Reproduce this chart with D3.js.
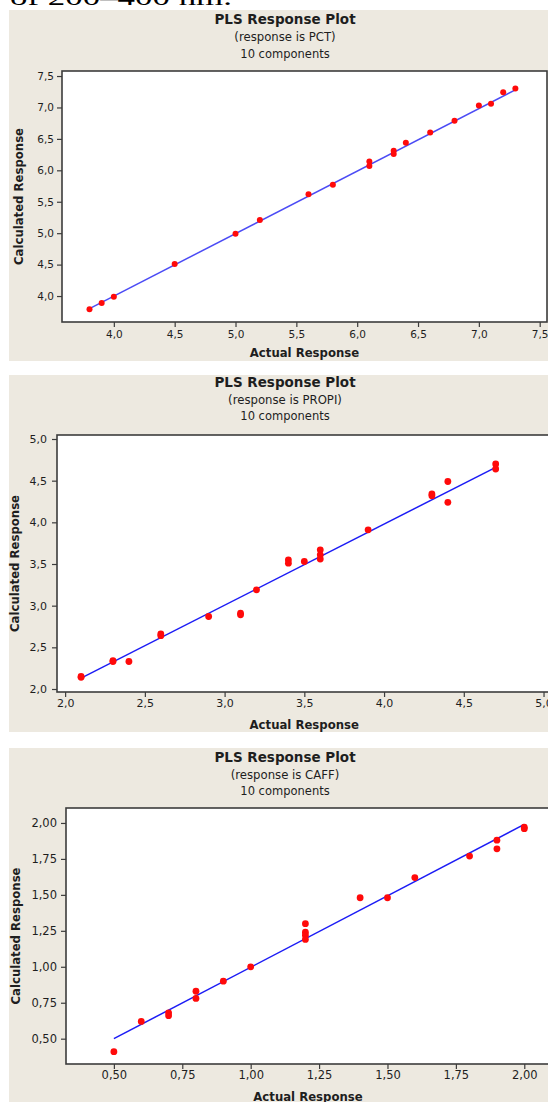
<!DOCTYPE html>
<html>
<head>
<meta charset="utf-8">
<script src="https://cdn.jsdelivr.net/npm/d3@7"></script>
<style>
    body { margin: 0; background: #fff; }
    svg { display: block; }
    text { font-family: "DejaVu Sans", sans-serif; fill: #1e1e1e; }
</style>
</head>
<body>
<svg id="chart" width="548" height="1102"></svg>
<script>
// ---- data ----
// PCT
const pctActual = [3.8, 3.9, 4.0, 4.5, 5.0, 5.2, 5.6, 5.8, 6.1, 6.1, 6.3, 6.3, 6.4, 6.6, 6.8, 7.0, 7.1, 7.2, 7.3];
const pctCalc   = [3.79, 3.89, 3.99, 4.51, 4.99, 5.21, 5.62, 5.77, 6.14, 6.07, 6.31, 6.26, 6.44, 6.60, 6.79, 7.03, 7.06, 7.24, 7.30];
const pctFitX = [3.8, 7.3];
const pctFitY = [3.80, 7.28];
const pctTicks = [4.0, 4.5, 5.0, 5.5, 6.0, 6.5, 7.0, 7.5];

// PROPI
const propiActual = [2.1, 2.1, 2.3, 2.3, 2.4, 2.6, 2.6, 2.9, 3.1, 3.1, 3.2, 3.4, 3.4, 3.5, 3.6, 3.6, 3.6, 3.9, 4.3, 4.3, 4.4, 4.4, 4.7, 4.7];
const propiCalc   = [2.15, 2.14, 2.34, 2.33, 2.33, 2.66, 2.64, 2.87, 2.91, 2.89, 3.19, 3.55, 3.51, 3.53, 3.67, 3.61, 3.56, 3.91, 4.34, 4.32, 4.49, 4.24, 4.70, 4.64];
const propiFitX = [2.1, 4.7];
const propiFitY = [2.13, 4.66];
const propiTicks = [2.0, 2.5, 3.0, 3.5, 4.0, 4.5, 5.0];

// CAFF
const caffActual = [0.5, 0.6, 0.7, 0.7, 0.8, 0.8, 0.9, 1.0, 1.2, 1.2, 1.2, 1.2, 1.4, 1.5, 1.6, 1.8, 1.9, 1.9, 2.0, 2.0];
const caffCalc   = [0.41, 0.62, 0.68, 0.66, 0.83, 0.78, 0.90, 1.00, 1.30, 1.24, 1.22, 1.19, 1.48, 1.48, 1.62, 1.77, 1.88, 1.82, 1.97, 1.96];
const caffFitX = [0.5, 2.0];
const caffFitY = [0.50, 1.99];
const caffTicks = [0.50, 0.75, 1.00, 1.25, 1.50, 1.75, 2.00];

const svg = d3.select("#chart");

// tail of the paragraph above the figure (cut off by the crop)
svg.append("text")
    .attr("x", 10)
    .attr("y", 5)
    .attr("textLength", 222)
    .attr("lengthAdjust", "spacingAndGlyphs")
    .style("font-family", "'Liberation Serif', 'DejaVu Serif', serif")
    .style("font-size", "24px")
    .style("fill", "#000")
    .text("of 200\u2013400 nm.");

// layout of each panel (pixels)
const panels = [
    {
        name: "PCT", actual: pctActual, calc: pctCalc, fitX: pctFitX, fitY: pctFitY,
        xTicks: pctTicks, yTicks: pctTicks, digits: 1,
        bgTop: 10, bgBottom: 361,
        left: 62, right: 547, top: 71, bottom: 322,
        xDomain: [3.574, 7.56], yDomain: [3.587, 7.58],
        titleY: 24, subY: 41, compY: 57.5,
        xLabelY: 357, yLabelX: 23,
        tickLen: 5, xPad: 4, yPad: 3, tickFont: 10.5,
        lineColor: "#4b4bf5", r: 3
    },
    {
        name: "PROPI", actual: propiActual, calc: propiCalc, fitX: propiFitX, fitY: propiFitY,
        xTicks: propiTicks, yTicks: propiTicks, digits: 1,
        bgTop: 375, bgBottom: 732,
        left: 57, right: 551.5, top: 435, bottom: 692,
        xDomain: [1.949, 5.05], yDomain: [1.964, 5.048],
        titleY: 387, subY: 403.5, compY: 420,
        xLabelY: 729, yLabelX: 19,
        tickLen: 5, xPad: 2, yPad: 5, tickFont: 11,
        lineColor: "#1c1cf5", r: 3.4
    },
    {
        name: "CAFF", actual: caffActual, calc: caffCalc, fitX: caffFitX, fitY: caffFitY,
        xTicks: caffTicks, yTicks: caffTicks, digits: 2,
        bgTop: 748, bgBottom: 1110,
        left: 66, right: 550, top: 808, bottom: 1064,
        xDomain: [0.325, 2.094], yDomain: [0.324, 2.104],
        titleY: 762, subY: 778.5, compY: 795,
        xLabelY: 1101, yLabelX: 20,
        tickLen: 5, xPad: 2, yPad: 4, tickFont: 11.5,
        lineColor: "#1c1cf5", r: 3.4
    }
];

function drawPanel(p) {
    const g = svg.append("g");
    const fmt = d => d3.format("." + p.digits + "f")(d).replace(".", ",");

    // beige graph window
    g.append("rect")
        .attr("x", 9).attr("y", p.bgTop)
        .attr("width", 560).attr("height", p.bgBottom - p.bgTop)
        .attr("fill", "#ede9e0");

    // titles
    g.append("text").attr("x", 285).attr("y", p.titleY)
        .attr("text-anchor", "middle")
        .style("font-size", "13.5px").style("font-weight", "bold")
        .text("PLS Response Plot");
    g.append("text").attr("x", 285).attr("y", p.subY)
        .attr("text-anchor", "middle")
        .style("font-size", "11.7px")
        .text("(response is " + p.name + ")");
    g.append("text").attr("x", 285).attr("y", p.compY)
        .attr("text-anchor", "middle")
        .style("font-size", "11.5px")
        .text("10 components");

    // data region
    g.append("rect")
        .attr("x", p.left).attr("y", p.top)
        .attr("width", p.right - p.left).attr("height", p.bottom - p.top)
        .attr("fill", "#fff");

    const x = d3.scaleLinear().domain(p.xDomain).range([p.left, p.right]);
    const y = d3.scaleLinear().domain(p.yDomain).range([p.bottom, p.top]);

    const xAxis = g.append("g")
        .attr("transform", `translate(0,${p.bottom})`)
        .call(d3.axisBottom(x).tickValues(p.xTicks).tickFormat(fmt)
            .tickSize(p.tickLen).tickSizeOuter(0).tickPadding(p.xPad));
    const yAxis = g.append("g")
        .attr("transform", `translate(${p.left},0)`)
        .call(d3.axisLeft(y).tickValues(p.yTicks).tickFormat(fmt)
            .tickSize(p.tickLen).tickSizeOuter(0).tickPadding(p.yPad));

    [xAxis, yAxis].forEach(a => {
        a.select(".domain").remove();
        a.selectAll(".tick line").attr("stroke", "#3c3c3c").attr("stroke-width", 1.2);
        a.selectAll(".tick text")
            .style("font-family", "'DejaVu Sans', sans-serif")
            .style("font-size", p.tickFont + "px")
            .attr("fill", "#262626");
    });

    // frame around the data region
    g.append("rect")
        .attr("x", p.left).attr("y", p.top)
        .attr("width", p.right - p.left).attr("height", p.bottom - p.top)
        .attr("fill", "none")
        .attr("stroke", "#3c3c3c")
        .attr("stroke-width", 1.6);

    // axis titles
    g.append("text")
        .attr("x", (p.left + p.right) / 2).attr("y", p.xLabelY)
        .attr("text-anchor", "middle")
        .style("font-size", "11.7px").style("font-weight", "bold")
        .text("Actual Response");
    g.append("text")
        .attr("transform", `translate(${p.yLabelX},${(p.top + p.bottom) / 2}) rotate(-90)`)
        .attr("text-anchor", "middle")
        .style("font-size", "11.7px").style("font-weight", "bold")
        .text("Calculated Response");

    // fitted line
    const fit = p.fitX.map((v, i) => [v, p.fitY[i]]);
    g.append("path")
        .datum(fit)
        .attr("fill", "none")
        .attr("stroke", p.lineColor)
        .attr("stroke-width", 1.5)
        .attr("d", d3.line().x(d => x(d[0])).y(d => y(d[1])));

    // points
    const pts = p.actual.map((v, i) => [v, p.calc[i]]);
    g.selectAll("circle")
        .data(pts)
        .join("circle")
        .attr("cx", d => x(d[0]))
        .attr("cy", d => y(d[1]))
        .attr("r", p.r)
        .attr("fill", "#ff0a0a");
}

panels.forEach(drawPanel);
</script>
</body>
</html>
